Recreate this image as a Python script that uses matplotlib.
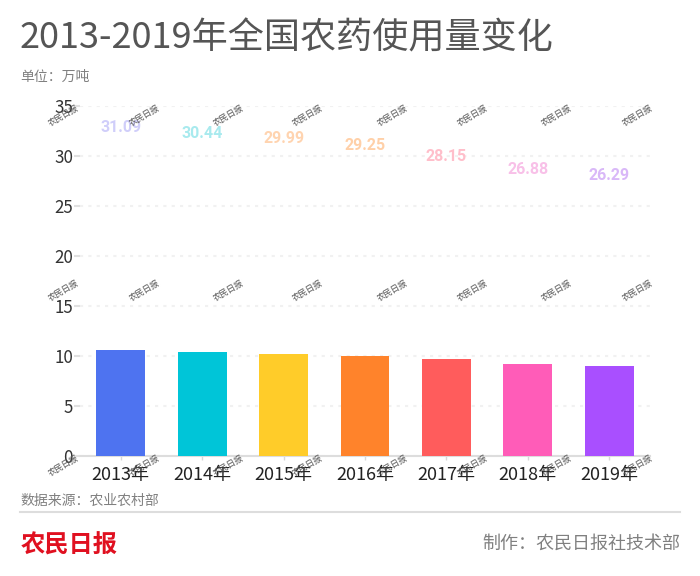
import matplotlib
matplotlib.use("Agg")
import matplotlib.pyplot as plt

plt.rcParams['font.family'] = ['Noto Sans CJK SC', 'DejaVu Sans']

years = ['2013年', '2014年', '2015年', '2016年', '2017年', '2018年', '2019年']
bar_values = [10.6, 10.4, 10.25, 10.04, 9.67, 9.2, 9.0]
label_values = [31.09, 30.44, 29.99, 29.25, 28.15, 26.88, 26.29]
bar_colors = ['#4E73F0', '#00C5D8', '#FFCC29', '#FF832B', '#FF5C5C', '#FF5CB8', '#A94FFF']
label_colors = ['#D0CEFA', '#A8EAEE', '#FFD4B0', '#FFD0A8', '#FFBECA', '#F8C0E8', '#D9B8F8']
yticks = [0, 5, 10, 15, 20, 25, 30, 35]

W, H = 700, 576
fig = plt.figure(figsize=(W / 100, H / 100), dpi=100, facecolor='white')
ax = fig.add_axes([80 / W, 1 - 456 / H, 570 / W, 350 / H])
ax.set_xlim(-0.5, 6.5)
ax.set_ylim(0, 35)
ax.patch.set_alpha(0)

xs = list(range(len(years)))
ax.bar(xs, bar_values, width=0.6, color=bar_colors, zorder=3)
ax.yaxis.grid(True, color='#F1F1F1', linewidth=1.5, linestyle=(0, (1.5, 2.5)), zorder=0)
ax.set_axisbelow(True)
ax.set_xticks(xs, years)
ax.set_yticks(yticks)
ax.tick_params(axis='y', length=4, width=1.5, color='#E0E0E0', labelsize=12.2, labelcolor='#333333', pad=1)
ax.tick_params(axis='x', length=3, width=1, color='#D8D8D8', labelsize=13, labelcolor='#222222', pad=4.5)
for s in ['top', 'right', 'left']:
    ax.spines[s].set_visible(False)
ax.spines['bottom'].set_color('#DDDDDD')
ax.spines['bottom'].set_linewidth(1.5)

for x, v, c in zip(xs, label_values, label_colors):
    ax.annotate(f'{v:.2f}', (x, v), xytext=(0, 13), textcoords='offset points',
                ha='center', va='center', fontsize=11.5, fontweight='bold', family='Roboto', color=c, zorder=4)

def px(x, y):
    return x / W, 1 - y / H

fig.text(*px(20, 39), '2013-2019年全国农药使用量变化', fontsize=26, color='#555555', va='center', ha='left')
fig.text(*px(20, 77), '单位：万吨', fontsize=10, color='#808080', va='center', ha='left')
fig.text(*px(20, 501), '数据来源：农业农村部', fontsize=10, color='#808080', va='center', ha='left')
fig.text(*px(680, 544), '制作：农民日报社技术部', fontsize=13, color='#808080', va='center', ha='right')
fig.text(*px(21, 546), '农民日报', fontsize=17.5, color='#E01020', va='center', ha='left', fontweight='bold')
fig.add_artist(plt.Line2D([20 / W, 680 / W], [1 - 512 / H, 1 - 512 / H], color='#DDDDDD', lw=1.5))

# watermark grid
mark_x = [63, 144, 228, 307, 392, 472, 556, 637]
mark_y_offsets = [116, 291, 466]
for my in mark_y_offsets:
    for mx in mark_x:
        fig.text(*px(mx, my), '农民日报', fontsize=6, color='#555555', rotation=30,
                 rotation_mode='anchor', ha='center', va='center', zorder=10)

fig.savefig('out.png', dpi=100)
